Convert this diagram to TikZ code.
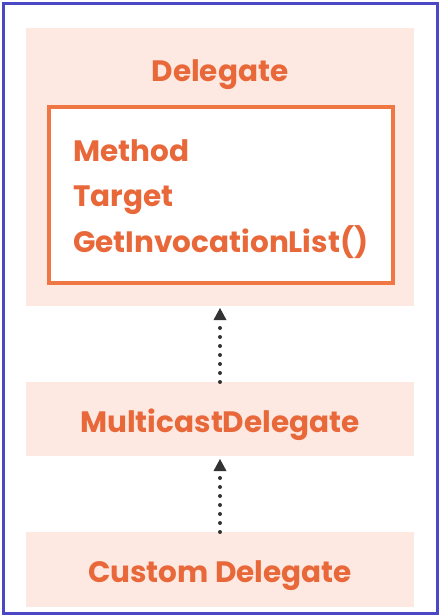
\documentclass[tikz,border=0pt]{standalone}
\usepackage{fontspec}
\setmainfont{Poppins}
\usetikzlibrary{arrows.meta}
\definecolor{frameblue}{HTML}{4A48C4}
\definecolor{peach}{HTML}{FDE9E1}
\definecolor{orangetxt}{HTML}{E8683A}
\definecolor{orangeline}{HTML}{EE7744}
\definecolor{arrowdark}{HTML}{333333}
\tikzset{
  x=1pt, y=-1pt,
  classbox/.style={fill=peach, draw=none},
  titletxt/.style={text=orangetxt, font=\fontsize{29.5}{34}\selectfont\bfseries, inner sep=0pt, anchor=base},
  membertxt/.style={text=orangetxt, font=\fontsize{29.5}{34}\selectfont\bfseries, inner sep=0pt, anchor=base west},
  inherit/.style={draw=arrowdark, line width=4pt, line cap=round, dash pattern=on 0pt off 9pt, -{Triangle[width=13pt,length=12pt,line width=0pt]}, shorten >=0pt}
}
\begin{document}
\begin{tikzpicture}
\useasboundingbox (0,0) rectangle (440,616);
\fill[white] (0,0) rectangle (440,616);
\draw[frameblue, line width=3pt] (3,3) rectangle (437,613);
% Delegate
\fill[classbox] (26,28) rectangle (414,306);
\node[titletxt] (dtitle) at (220,81) {Delegate};
\draw[orangeline, line width=4pt, fill=white] (49,107) rectangle (393,283);
\node[membertxt] (m1) at (73,161) {Method};
\node[membertxt] (m2) at (73,206) {Target};
\node[membertxt] (m3) at (73,252) {GetInvocationList()};
% Multicast
\fill[classbox] (26,382) rectangle (414,456);
\coordinate (mtop) at (220,382);
\node[titletxt] (mtitle) at (220,432) {MulticastDelegate};
% Custom
\fill[classbox] (26,532) rectangle (414,607);
\coordinate (ctop) at (220,532);
\node[titletxt] (ctitle) at (220,582) {Custom Delegate};
% arrow tips
\coordinate (dbot) at (220,308);
\coordinate (mbot) at (220,459);
\draw[inherit] (mtop) -- (dbot);
\draw[inherit] (ctop) -- (mbot);
\end{tikzpicture}
\end{document}
